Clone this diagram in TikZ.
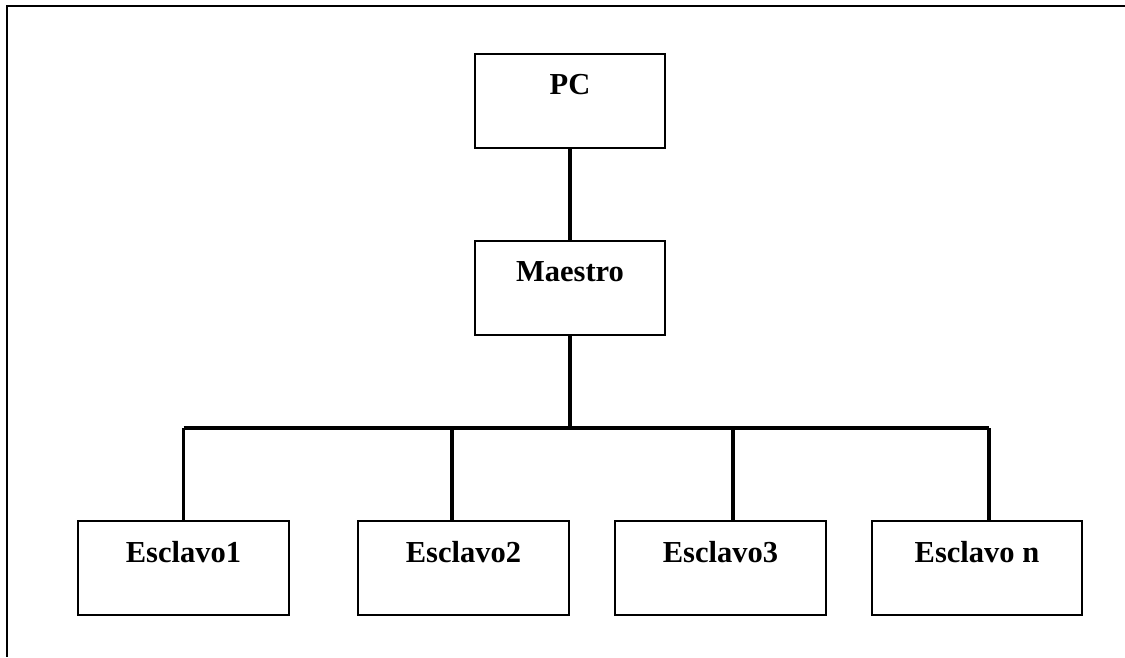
\documentclass[tikz,border=0pt]{standalone}
\usepackage{fontspec}
\setmainfont{Liberation Serif}
\usetikzlibrary{positioning}

\begin{document}
\begin{tikzpicture}[
    x=1pt, y=1pt,
    node distance=44pt,
    box/.style={rectangle, draw, line width=2pt, minimum width=211pt, inner xsep=0pt, inner ysep=0pt,
                text height=41pt, text depth=53pt, align=center,
                font=\fontsize{30.5}{36}\selectfont\bfseries},
    link/.style={line width=3.5pt},
    frame/.style={line width=2pt},
]
\useasboundingbox (0,0) rectangle (1125,657);

% Outer frame
\draw[frame] (1125,651) -- (7,651) -- (7,0);

% Main vertical flow
\node[box, minimum width=190pt, anchor=north] (pc) at (570,604) {PC};
\node[box, minimum width=190pt, below=91pt of pc] (maestro) {Maestro};

% Slave row
\node[box, anchor=north] (esc1) at (183.5,137) {Esclavo1};
\node[box, right=67pt of esc1] (esc2) {Esclavo2};
\node[box, right=of esc2] (esc3) {Esclavo3};
\node[box, minimum width=210pt, right=of esc3] (esc4) {Esclavo n};

% Bus
\coordinate (bus1) at (183.5,229);
\coordinate (bus2) at (452,229);
\coordinate (bus3) at (733,229);
\coordinate (bus4) at (989,229);

% Lines
\draw[link] (pc) -- (maestro);
\draw[link] (maestro) -- (maestro |- bus1);
\draw[link] (bus1) -- (bus4);
\foreach \i in {1,...,4}
    \draw[link] (bus\i) -- (bus\i |- esc\i.north);

\end{tikzpicture}
\end{document}
